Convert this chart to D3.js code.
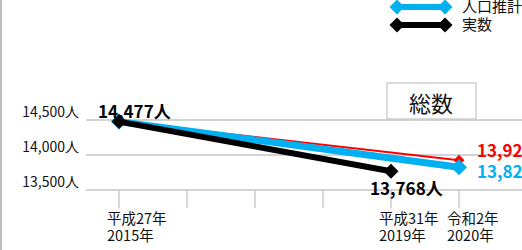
<!DOCTYPE html>
<html><head><meta charset="utf-8">
<script src="https://cdn.jsdelivr.net/npm/d3@7/dist/d3.min.js"></script>
<style>
html,body{margin:0;padding:0;background:#fff;overflow:hidden;}
svg{display:block;font-family:"Noto Sans CJK JP","Noto Sans",sans-serif;}
</style></head>
<body>
<svg id="chart" width="522" height="250"></svg>
<script>
// ---- data ----
const tickYears = [2015, 2016, 2017, 2018, 2019, 2020];
const labelYears = [2015, 2019, 2020];
const labelEra = ["平成27年", "平成31年", "令和2年"];
const labelWestern = ["2015年", "2019年", "2020年"];
const yTickValues = [13500, 14000, 14500];
const yTickLabels = ["13,500人", "14,000人", "14,500人"];

const actualYears = [2015, 2019];
const actualValues = [14477, 13768];      // 実数 (black)
const estimateYears = [2015, 2020];
const estimateValues = [14477, 13824];    // 人口推計 (blue)
const projectionYears = [2015, 2020];
const projectionValues = [14477, 13924];  // red series

const seriesNames = ["人口推計", "実数"];
const chartTitle = "総数";

// ---- layout ----
const svg = d3.select("#chart");
const x = d3.scaleLinear().domain([2015, 2020]).range([119, 459]);
const y = d3.scaleLinear().domain([13500, 14500]).range([190, 120]);
const plotLeft = 86, plotRight = 522;
const gridColor = "#c4c4c4";
const blue = "#00b0f0", red = "#ff0000", black = "#000000";

// left border line
svg.append("line").attr("x1", 1).attr("x2", 1).attr("y1", 0).attr("y2", 250)
  .attr("stroke", "#a8a8a8").attr("stroke-width", 1.5);

// gridlines
svg.append("g").selectAll("line").data(yTickValues).join("line")
  .attr("x1", plotLeft).attr("x2", plotRight)
  .attr("y1", d => y(d)).attr("y2", d => y(d))
  .attr("stroke", gridColor).attr("stroke-width", 1.3);

// y labels
svg.append("g").selectAll("text").data(yTickValues).join("text")
  .attr("x", 79).attr("y", d => y(d) - 3.5)
  .attr("text-anchor", "end").attr("font-size", 14).attr("fill", "#111")
  .text((d, i) => yTickLabels[i]);

// x ticks
svg.append("g").selectAll("line").data(tickYears).join("line")
  .attr("x1", d => x(d)).attr("x2", d => x(d))
  .attr("y1", y(13500)).attr("y2", y(13500) + 18)
  .attr("stroke", gridColor).attr("stroke-width", 1.3);

// x labels
const xl = svg.append("g").selectAll("text").data(labelYears).join("text")
  .attr("font-size", 14.5).attr("fill", "#111");
xl.append("tspan").attr("x", d => x(d) - 12).attr("y", 224).text((d, i) => labelEra[i]);
xl.append("tspan").attr("x", d => x(d) - 12).attr("y", 241).text((d, i) => labelWestern[i]);

// title box
svg.append("rect").attr("x", 387).attr("y", 83).attr("width", 89).attr("height", 36)
  .attr("fill", "#fff").attr("stroke", "#c8c8c8").attr("stroke-width", 1.3);
svg.append("text").attr("x", 431).attr("y", 112).attr("text-anchor", "middle")
  .attr("font-size", 22).attr("fill", "#111").text(chartTitle);

const diamond = (cx, cy, r) => `M${cx},${cy - r}L${cx + r},${cy}L${cx},${cy + r}L${cx - r},${cy}Z`;
const line = d3.line().x(d => x(d[0])).y(d => y(d[1]));

function drawSeries(years, values, color, width, r) {
  const pts = years.map((yr, i) => [yr, values[i]]);
  const g = svg.append("g");
  g.append("path").attr("d", line(pts)).attr("fill", "none")
    .attr("stroke", color).attr("stroke-width", width);
  g.selectAll("path.m").data(pts).join("path").attr("class", "m")
    .attr("d", d => diamond(x(d[0]), y(d[1]), r)).attr("fill", color);
}
drawSeries(projectionYears, projectionValues, red, 2, 5.5);
drawSeries(estimateYears, estimateValues, blue, 7, 8);
drawSeries(actualYears, actualValues, black, 6, 7.5);

// data labels
svg.append("text").attr("x", x(2015) - 21).attr("y", y(actualValues[0]) - 4)
  .attr("font-size", 17).attr("font-weight", "bold").attr("fill", black)
  .text(d3.format(",")(actualValues[0]) + "人");
svg.append("text").attr("x", x(2019) - 21).attr("y", y(actualValues[1]) + 24)
  .attr("font-size", 17).attr("font-weight", "bold").attr("fill", black)
  .text(d3.format(",")(actualValues[1]) + "人");
svg.append("text").attr("x", x(2020) + 18).attr("y", y(projectionValues[1]) - 3)
  .attr("font-size", 17).attr("font-weight", "bold").attr("fill", red)
  .text(d3.format(",")(projectionValues[1]) + "人");
svg.append("text").attr("x", x(2020) + 18).attr("y", y(estimateValues[1]) + 11)
  .attr("font-size", 17).attr("font-weight", "bold").attr("fill", blue)
  .text(d3.format(",")(estimateValues[1]) + "人");

// legend
const legend = [{name: seriesNames[0], color: blue, y: 7}, {name: seriesNames[1], color: black, y: 25}];
const lg = svg.append("g").selectAll("g").data(legend).join("g");
lg.append("line").attr("x1", 397).attr("x2", 445).attr("y1", d => d.y).attr("y2", d => d.y)
  .attr("stroke", d => d.color).attr("stroke-width", 6);
lg.append("path").attr("d", d => diamond(397, d.y, 7.5)).attr("fill", d => d.color);
lg.append("path").attr("d", d => diamond(445, d.y, 7.5)).attr("fill", d => d.color);
lg.append("text").attr("x", 462).attr("y", d => d.y + 5).attr("font-size", 15).attr("fill", "#111")
  .text(d => d.name);
</script>
</body></html>
